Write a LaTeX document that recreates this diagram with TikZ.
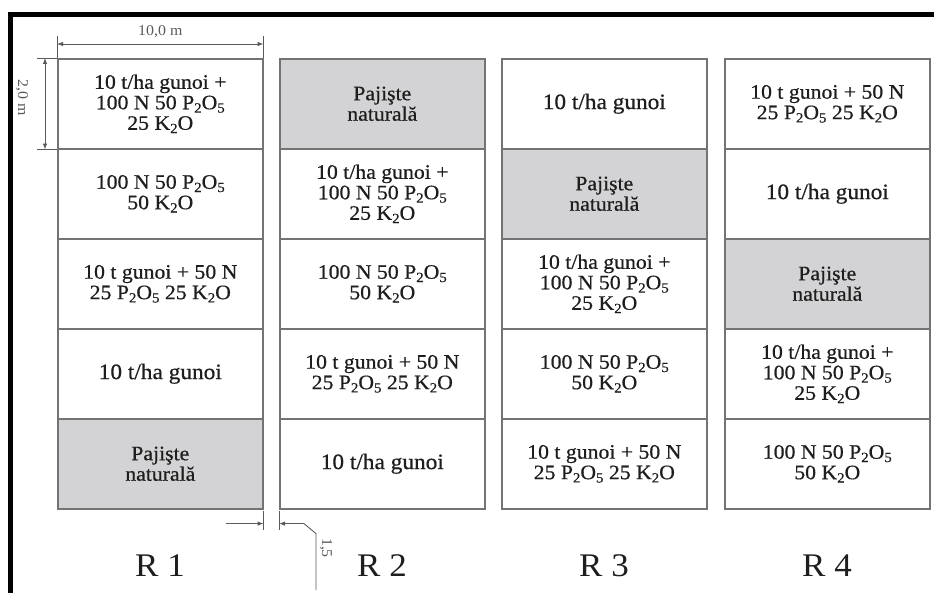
\documentclass[tikz,border=0pt]{standalone}
\usepackage{fontspec}
\setmainfont{Liberation Serif}[FakeStretch=1.06]
\newfontfamily\cellfont{Liberation Serif}[FakeStretch=1.06,FakeBold=0.6]
\usetikzlibrary{arrows.meta}
\definecolor{cellline}{RGB}{115,115,115}
\definecolor{cellgray}{RGB}{211,211,213}
\definecolor{ink}{RGB}{30,30,30}
\definecolor{dimink}{RGB}{90,90,90}
\newcommand\lowsub[1]{\raisebox{-0.35ex}{\fontsize{14}{14}\selectfont #1}}
\newcommand\txtA{10 t/ha gunoi +\\100 N 50 P\lowsub{2}O\lowsub{5}\\25 K\lowsub{2}O}
\newcommand\txtB{100 N 50 P\lowsub{2}O\lowsub{5}\\50 K\lowsub{2}O}
\newcommand\txtC{10 t gunoi + 50 N\\25 P\lowsub{2}O\lowsub{5} 25 K\lowsub{2}O}
\newcommand\txtD{{\fontsize{22}{22}\selectfont 10 t/ha gunoi}}
\newcommand\txtP{Pajişte\\naturală}
\begin{document}
\begin{tikzpicture}[x=1pt,y=-1pt,
 cell/.style={draw=cellline, line width=1.6pt, minimum width=205pt, minimum height=90pt, inner sep=0pt, align=center, anchor=north west, text=ink, font=\cellfont\fontsize{20.5}{20.5}\selectfont},
 grass/.style={cell, fill=cellgray},
 dimline/.style={draw=dimink, line width=0.9pt},
 dimlabel/.style={text=dimink, font=\fontsize{15}{15}\selectfont, inner sep=0pt},
 rlabel/.style={text=ink, font=\fontsize{33}{33}\selectfont, inner sep=0pt}]
\useasboundingbox (0,0) rectangle (934,593);
\fill[white] (0,0) rectangle (934,593);
% frame
\draw[line width=5pt, line cap=rect] (10,593) -- (10,15) -- (934,15);
% column 1
\node[cell]  (c11) at (57,58)  {\txtA};
\node[cell]  (c12) at (57,148) {\txtB};
\node[cell]  (c13) at (57,238) {\txtC};
\node[cell]  (c14) at (57,328) {\txtD};
\node[grass] (c15) at (57,418) {\txtP};
% column 2
\node[grass] (c21) at (279,58)  {\txtP};
\node[cell]  (c22) at (279,148) {\txtA};
\node[cell]  (c23) at (279,238) {\txtB};
\node[cell]  (c24) at (279,328) {\txtC};
\node[cell]  (c25) at (279,418) {\txtD};
% column 3
\node[cell]  (c31) at (501,58)  {\txtD};
\node[grass] (c32) at (501,148) {\txtP};
\node[cell]  (c33) at (501,238) {\txtA};
\node[cell]  (c34) at (501,328) {\txtB};
\node[cell]  (c35) at (501,418) {\txtC};
% column 4
\node[cell]  (c41) at (724,58)  {\txtC};
\node[cell]  (c42) at (724,148) {\txtD};
\node[grass] (c43) at (724,238) {\txtP};
\node[cell]  (c44) at (724,328) {\txtA};
\node[cell]  (c45) at (724,418) {\txtB};
% labels
\node[rlabel] (r1) at (160,566) {R 1};
\node[rlabel] (r2) at (382,566) {R 2};
\node[rlabel] (r3) at (604,566) {R 3};
\node[rlabel] (r4) at (827,566) {R 4};
% top dimension
\coordinate (tl) at ([yshift=22pt]c11.north west);
\coordinate (tr) at ([yshift=22pt]c11.north east);
\draw[dimline] (c11.north west) -- (tl);
\draw[dimline] (c11.north east) -- (tr);
\draw[dimline, {Latex[length=6pt,width=4.5pt]}-{Latex[length=6pt,width=4.5pt]}]
  ([yshift=14pt]c11.north west) -- node[dimlabel, above=6pt] (d10) {10,0 m} ([yshift=14pt]c11.north east);
% left dimension
\coordinate (lt) at ([xshift=-20pt]c11.north west);
\coordinate (lb) at ([xshift=-20pt]c11.south west);
\draw[dimline] (c11.north west) -- (lt);
\draw[dimline] (c11.south west) -- (lb);
\draw[dimline, {Latex[length=6pt,width=4.5pt]}-{Latex[length=6pt,width=4.5pt]}]
  ([xshift=-12pt]c11.north west) -- ([xshift=-12pt]c11.south west);
\node[dimlabel, rotate=-90] (d2) at (22,98) {2,0 m};
% bottom gap dimension
\coordinate (g1a) at ([yshift=-1pt]c15.south east);
\coordinate (g1b) at ([yshift=-20pt]c15.south east);
\coordinate (g2a) at ([yshift=-1pt]c25.south west);
\coordinate (g2b) at ([yshift=-20pt]c25.south west);
\draw[dimline] (g1a) -- (g1b);
\draw[dimline] (g2a) -- (g2b);
\coordinate (ga) at ([yshift=-14pt, xshift=-38pt]c15.south east);
\coordinate (gb) at ([yshift=-14pt, xshift=25pt]c25.south west);
\coordinate (gc) at ([yshift=-24pt, xshift=37pt]c25.south west);
\coordinate (gd) at (316,590);
\draw[dimline, -{Latex[length=6pt,width=4.5pt]}] (ga) -- ([yshift=-14pt]c15.south east);
\draw[dimline, -{Latex[length=6pt,width=4.5pt]}] (gb) -- ([yshift=-14pt]c25.south west);
\draw[dimline] (gb) -- (gc) -- (gd);
\node[dimlabel, rotate=-90] (d15) at (326,548) {1,5};
\end{tikzpicture}
\end{document}
